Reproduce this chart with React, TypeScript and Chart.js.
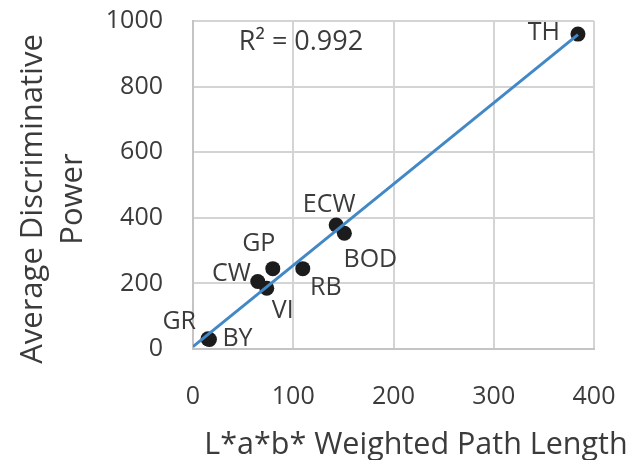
import { useEffect, useRef } from "react";
import { Chart, registerables } from "chart.js";

Chart.register(...registerables);

// Samples: weighted L*a*b* path length vs. average discriminative power
const sampleNames = ["TH", "ECW", "BOD", "GP", "RB", "CW", "VI", "BY", "GR"];
const pathLength = [384, 142.8, 151, 79.6, 109.5, 64.6, 73.6, 16.4, 15];
const discriminativePower = [960, 378, 353, 245, 245, 206, 185, 29, 31];
const rSquaredText = "R² = 0.992";
const xAxisTitle = "L*a*b* Weighted Path Length";
const yAxisTitle = ["Average Discriminative", "Power"];
const xRange = [0, 400];
const yRange = [0, 1000];

const FONT = "'Open Sans', sans-serif";
const TEXT = "#3b3b3b";

// Label placement around each dot: [dx, dy, align]
const LABEL_OFFSETS: Record<string, [number, number, CanvasTextAlign]> = {
  TH: [-18, -1, "right"],
  ECW: [-7, -20, "center"],
  BOD: [26, 27, "center"],
  GP: [-14, -25, "center"],
  RB: [23, 19, "center"],
  CW: [-7, -8, "right"],
  VI: [16, 23, "center"],
  BY: [13, -1, "left"],
  GR: [-12, -17, "right"],
};

// Ordinary least-squares fit for the trendline
function linearFit(xs: number[], ys: number[]) {
  const n = xs.length;
  const mx = xs.reduce((a, b) => a + b, 0) / n;
  const my = ys.reduce((a, b) => a + b, 0) / n;
  let sxy = 0;
  let sxx = 0;
  for (let i = 0; i < n; i++) {
    sxy += (xs[i] - mx) * (ys[i] - my);
    sxx += (xs[i] - mx) * (xs[i] - mx);
  }
  const slope = sxy / sxx;
  return { slope, intercept: my - slope * mx };
}

const annotations = {
  id: "annotations",
  afterDatasetsDraw(chart: Chart) {
    const { ctx, chartArea } = chart;
    const meta = chart.getDatasetMeta(1);
    ctx.save();
    ctx.fillStyle = TEXT;
    ctx.font = `25px ${FONT}`;
    ctx.textBaseline = "middle";
    meta.data.forEach((pt: any, i: number) => {
      const name = sampleNames[i];
      const [dx, dy, align] = LABEL_OFFSETS[name];
      ctx.textAlign = align;
      ctx.fillText(name, pt.x + dx, pt.y + dy);
    });
    // fit statistic
    ctx.font = `27px ${FONT}`;
    ctx.textAlign = "center";
    ctx.fillText(rSquaredText, chartArea.left + 108, chartArea.top + 21);

    // axis titles
    ctx.font = `30.5px ${FONT}`;
    ctx.textAlign = "center";
    ctx.fillText(xAxisTitle, chartArea.left + 223, chartArea.bottom + 96);
    ctx.font = `31px ${FONT}`;
    ctx.save();
    ctx.translate(33, chartArea.top + 178);
    ctx.rotate(-Math.PI / 2);
    yAxisTitle.forEach((line, i) => ctx.fillText(line, 0, i * 40));
    ctx.restore();
    ctx.restore();
  },
};

export default function App() {
  const canvasRef = useRef<HTMLCanvasElement | null>(null);

  useEffect(() => {
    const canvas = canvasRef.current;
    if (!canvas) return;
    const { slope, intercept } = linearFit(pathLength, discriminativePower);
    const xMax = Math.max(...pathLength);
    const trend = [
      { x: 0, y: intercept },
      { x: xMax, y: intercept + slope * xMax },
    ];
    const points = pathLength.map((x, i) => ({ x, y: discriminativePower[i] }));

    const chart = new Chart(canvas, {
      type: "scatter",
      data: {
        datasets: [
          {
            type: "line",
            data: trend,
            borderColor: "#4388c6",
            borderWidth: 3,
            pointRadius: 0,
            fill: false,
          },
          {
            data: points,
            backgroundColor: "#1c1c1c",
            borderColor: "#1c1c1c",
            pointRadius: 7.5,
            borderWidth: 0,
          },
        ],
      },
      options: {
        animation: false,
        responsive: false,
        maintainAspectRatio: false,
        layout: { padding: { top: 21, right: 50, bottom: 0, left: 0 } },
        plugins: {
          legend: { display: false },
          tooltip: { enabled: false },
        },
        scales: {
          x: {
            type: "linear",
            min: xRange[0],
            max: xRange[1],
            ticks: {
              stepSize: 100,
              padding: 33,
              color: TEXT,
              font: { family: FONT, size: 25 },
              callback: (v: any) => String(v),
            },
            grid: { color: "#d4d4d4", lineWidth: 2, drawTicks: false },
            border: { color: "#c4c4c4", width: 2 },
            afterFit: (scale: any) => {
              scale.height = 111;
              scale.paddingLeft = 0;
              scale.paddingRight = 0;
            },
          },
          y: {
            type: "linear",
            min: yRange[0],
            max: yRange[1],
            ticks: {
              stepSize: 200,
              padding: 30,
              color: TEXT,
              font: { family: FONT, size: 25 },
              callback: (v: any) => String(v),
            },
            grid: { color: "#d4d4d4", lineWidth: 2, drawTicks: false },
            border: { color: "#c4c4c4", width: 2 },
            afterFit: (scale: any) => {
              scale.width = 193;
              scale.paddingTop = 0;
              scale.paddingBottom = 0;
            },
          },
        },
      },
      plugins: [annotations],
    });
    return () => chart.destroy();
  }, []);

  return (
    <div style={{ position: "fixed", left: 0, top: 0, width: 644, height: 460, background: "#fff" }}>
      <canvas ref={canvasRef} width={644} height={460} />
    </div>
  );
}
